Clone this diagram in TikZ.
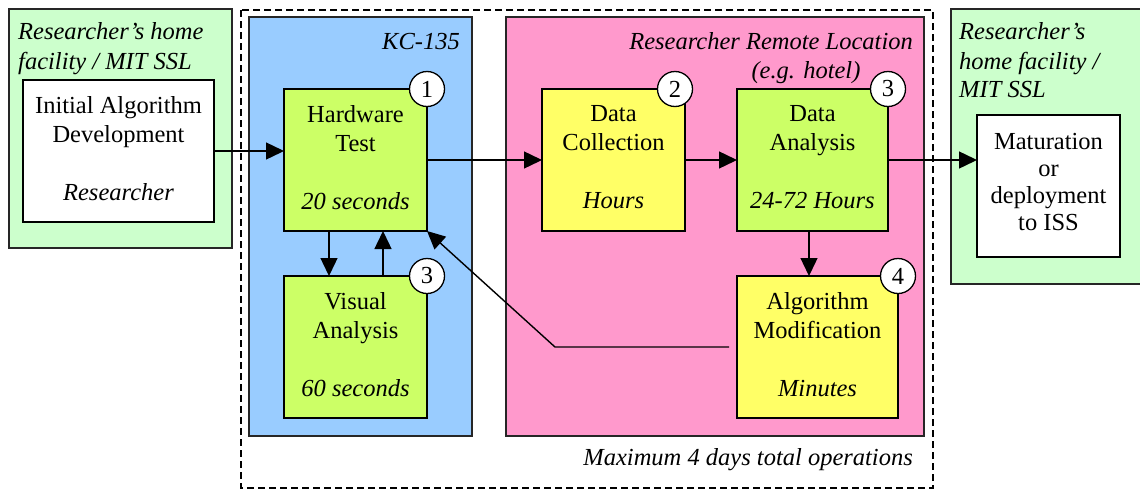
\documentclass[tikz,border=0pt]{standalone}
\usepackage{fontspec}
\setmainfont{Liberation Serif}
\usetikzlibrary{arrows.meta}
\definecolor{panelgreen}{HTML}{CCFFCC}
\definecolor{panelblue}{HTML}{99CCFF}
\definecolor{panelpink}{HTML}{FF99CC}
\definecolor{boxlime}{HTML}{CCFF66}
\definecolor{boxyellow}{HTML}{FFFF66}
\tikzset{
  panel/.style={draw=black!85, line width=1.3pt},
  procbox/.style={draw=black, line width=1.3pt, inner sep=0pt, outer sep=0pt, align=center,
    font=\fontsize{24.5}{29}\selectfont},
  numcirc/.style={circle, draw=black, line width=1.3pt, fill=white, minimum size=35pt, inner sep=0pt,
    font=\fontsize{24.5}{29}\selectfont},
  ttl/.style={inner sep=0pt, font=\fontsize{24.5}{30}\selectfont\itshape},
  arr/.style={line width=1.4pt, -{Triangle[length=18pt,width=17pt]}},
  conn/.style={line width=1.4pt}
}
\begin{document}
\begin{tikzpicture}[x=1pt,y=-1pt]
\clip (0,0) rectangle (1140,490);
\useasboundingbox (0,0) rectangle (1140,490);
% panels
\fill[white] (0,0) rectangle (1140,490);
\draw[panel, fill=panelgreen] (9,9) rectangle (232,248);
\draw[line width=1.5pt, dash pattern=on 7pt off 4pt] (241,10) rectangle (933,488);
\draw[panel, fill=panelblue] (249,17) rectangle (472,436);
\draw[panel, fill=panelpink] (506,17) rectangle (924,436);
\draw[panel, fill=panelgreen] (951,9) rectangle (1160,284);
% titles
\node[ttl, anchor=base west] (tl1) at (18,39) {Researcher’s home};
\node[ttl, anchor=base west] (tl2) at (18,69) {facility / MIT SSL};
\node[ttl, anchor=base east] (tkc) at (460,49) {KC-135};
\node[ttl, anchor=base east] (tp1) at (913,49) {Researcher Remote Location};
\node[ttl, anchor=base] (tp2) at (806,78) {(e.g. hotel)};
\node[ttl, anchor=base east] (tmax) at (913,465) {Maximum 4 days total operations};
\node[ttl, anchor=base west] (tr1) at (959,39) {Researcher’s};
\node[ttl, anchor=base west] (tr2) at (959,69) {home facility /};
\node[ttl, anchor=base west] (tr3) at (959,97) {MIT SSL};
% boxes
\node[procbox, fill=white, minimum width=191pt, minimum height=142pt] (init) at (118.5,151)
  {Initial Algorithm\\Development\\[29pt]\textit{Researcher}\\[-23pt]};
\node[procbox, fill=boxlime, minimum width=143pt, minimum height=142pt] (hw) at (355.5,160)
  {Hardware\\Test\\[29pt]\textit{20 seconds}\\[-23pt]};
\node[procbox, fill=boxlime, minimum width=143pt, minimum height=142pt] (vis) at (355.5,347)
  {Visual\\Analysis\\[29pt]\textit{60 seconds}\\[-23pt]};
\node[procbox, fill=boxyellow, minimum width=143pt, minimum height=142pt] (dc) at (613.5,160)
  {Data\\Collection\\[29pt]\textit{Hours}\\[-23pt]};
\node[procbox, fill=boxlime, minimum width=151pt, minimum height=142pt] (da) at (812.5,160)
  {Data\\Analysis\\[29pt]\textit{24-72 Hours}\\[-23pt]};
\node[procbox, fill=boxyellow, minimum width=161pt, minimum height=142pt] (alg) at (817.5,347)
  {Algorithm\\Modification\\[29pt]\textit{Minutes}\\[-23pt]};
\node[procbox, fill=white, minimum width=143pt, minimum height=142pt,
  font=\fontsize{24.5}{27}\selectfont] (mat) at (1048.5,186)
  {Maturation\\or\\deployment\\to ISS\\[-19pt]};
% number circles
\node[numcirc] (c1) at (hw.north east) {1};
\node[numcirc] (c3a) at (vis.north east) {3};
\node[numcirc] (c2) at ([xshift=-10pt]dc.north east) {2};
\node[numcirc] (c3b) at (da.north east) {3};
\node[numcirc] (c4) at (alg.north east) {4};
% connectors
\draw[arr] (init.east) -- (init.east -| hw.west);
\draw[arr] (hw.east) -- (dc.west);
\draw[arr] (dc.east) -- (da.west);
\draw[arr] (da.east) -- (da.east -| mat.west);
\draw[arr] ([xshift=-26.5pt]hw.south) -- ([xshift=-26.5pt]hw.south |- vis.north);
\draw[arr] ([xshift=27.5pt]vis.north) -- ([xshift=27.5pt]vis.north |- hw.south);
\draw[arr] ([xshift=-3.5pt]da.south) -- ([xshift=-3.5pt]da.south |- alg.north);
\coordinate (fbstart) at ([xshift=-8pt]alg.west);
\coordinate (fbbend) at (555,347);
\draw[arr] (fbstart) -- (fbbend) -- (hw.south east);
\end{tikzpicture}
\end{document}
